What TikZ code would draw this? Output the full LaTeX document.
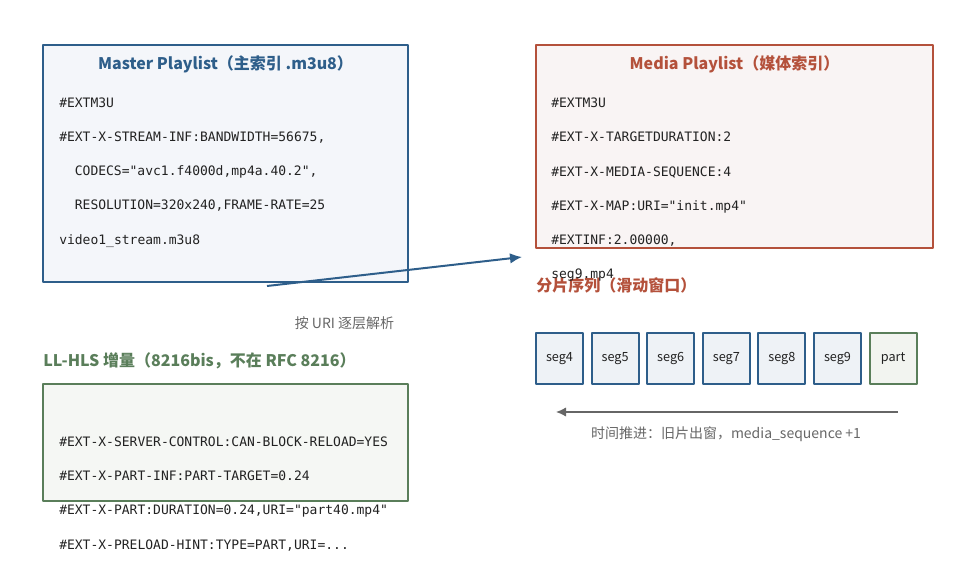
\documentclass[tikz,border=0pt]{standalone}
\usepackage{fontspec}
\setmainfont{Noto Sans CJK SC}
\setmonofont{DejaVu Sans Mono}
\usepackage{tikz}
\usetikzlibrary{arrows.meta}
\usetikzlibrary{shapes}
\definecolor{masterblue}{HTML}{2E5E8A}
\definecolor{mediared}{HTML}{B4513B}
\definecolor{llgreen}{HTML}{5A7E5A}
\definecolor{masterfill}{HTML}{F4F6FA}
\definecolor{mediafill}{HTML}{F9F4F4}
\definecolor{llfill}{HTML}{F5F7F4}
\definecolor{segfill}{HTML}{EEF2F6}
\definecolor{partfill}{HTML}{F2F4F0}
\definecolor{notegray}{HTML}{666666}
\definecolor{codeblack}{HTML}{222222}

\begin{document}
\begin{tikzpicture}[>=latex,line join=bevel,
  listbox/.style={draw,line width=1.5bp,inner sep=0pt},
  segbox/.style={draw=masterblue,fill=segfill,line width=1.5bp,inner sep=0pt,minimum width=35.25bp,minimum height=38.25bp,text=codeblack,font=\fontsize{9.5bp}{11bp}\selectfont},
  codeline/.style={anchor=west,inner sep=0pt,text=codeblack,text height=7bp,text depth=0bp,font=\ttfamily\fontsize{9.75bp}{11bp}\selectfont},
  headline/.style={inner sep=0pt,font=\bfseries\fontsize{12bp}{14bp}\selectfont},
  noteline/.style={inner sep=0pt,text=notegray,font=\fontsize{10.5bp}{12bp}\selectfont},
]
%%
\useasboundingbox (0bp,0bp) rectangle (719.25bp,435.75bp);
\node (node_master) at (169.13bp,313.13bp) [listbox,draw=masterblue,fill=masterfill,minimum width=273.75bp,minimum height=177.75bp] {};
  \node (node_media) at (550.88bp,325.88bp) [listbox,draw=mediared,fill=mediafill,minimum width=297.75bp,minimum height=152.25bp] {};
  \node (node_llhls) at (169.13bp,103.88bp) [listbox,draw=llgreen,fill=llfill,minimum width=273.75bp,minimum height=87.75bp] {};
  \node (node_master_title) at (169.13bp,387.75bp) [headline,text=masterblue] {Master Playlist（主索引 .m3u8）};
  \node (node_media_title) at (550.88bp,387.75bp) [headline,text=mediared] {Media Playlist（媒体索引）};
  \node (node_seg_title) at (402bp,222bp) [headline,anchor=west,text=mediared] {分片序列（滑动窗口）};
  \node (node_llhls_title) at (32.25bp,165bp) [headline,anchor=west,text=llgreen] {LL-HLS 增量（8216bis，不在 RFC 8216）};
  \node (node_m1) at (44.25bp,358.5bp) [codeline] {\#EXTM3U};
  \node (node_m2) at (44.25bp,333bp) [codeline] {\#EXT-X-STREAM-INF:BANDWIDTH=56675,};
  \node (node_m3) at (55.95bp,307.5bp) [codeline] {CODECS="avc1.f4000d,mp4a.40.2",};
  \node (node_m4) at (55.95bp,282bp) [codeline] {RESOLUTION=320x240,FRAME-RATE=25};
  \node (node_m5) at (44.25bp,255.75bp) [codeline] {video1\_stream.m3u8};
  \node (node_p1) at (413.25bp,358.5bp) [codeline] {\#EXTM3U};
  \node (node_p2) at (413.25bp,333bp) [codeline] {\#EXT-X-TARGETDURATION:2};
  \node (node_p3) at (413.25bp,306.75bp) [codeline] {\#EXT-X-MEDIA-SEQUENCE:4};
  \node (node_p4) at (413.25bp,281.25bp) [codeline] {\#EXT-X-MAP:URI="init.mp4"};
  \node (node_p5) at (413.25bp,255.75bp) [codeline] {\#EXTINF:2.00000,};
  \node (node_p6) at (413.25bp,230.25bp) [codeline] {seg9.mp4};
  \node (node_l1) at (44.25bp,104.25bp) [codeline] {\#EXT-X-SERVER-CONTROL:CAN-BLOCK-RELOAD=YES};
  \node (node_l2) at (44.25bp,78.75bp) [codeline] {\#EXT-X-PART-INF:PART-TARGET=0.24};
  \node (node_l3) at (44.25bp,53.25bp) [codeline] {\#EXT-X-PART:DURATION=0.24,URI="part40.mp4"};
  \node (node_l4) at (44.25bp,27bp) [codeline] {\#EXT-X-PRELOAD-HINT:TYPE=PART,URI=...};
  \node (node_seg4) at (419.63bp,166.88bp) [segbox] {seg4};
  \node (node_seg5) at (461.33bp,166.88bp) [segbox] {seg5};
  \node (node_seg6) at (503.03bp,166.88bp) [segbox] {seg6};
  \node (node_seg7) at (544.73bp,166.88bp) [segbox] {seg7};
  \node (node_seg8) at (586.43bp,166.88bp) [segbox] {seg8};
  \node (node_seg9) at (628.13bp,166.88bp) [segbox] {seg9};
  \node (node_part) at (669.83bp,166.88bp) [segbox,draw=llgreen,fill=partfill] {part};
  \node (node_resolve) at (258.38bp,193.5bp) [noteline] {按 URI 逐层解析};
  \node (node_slide) at (544.5bp,110.25bp) [noteline] {时间推进：旧片出窗，media\_sequence +1};
  \coordinate (node_resolve_from) at (200.25bp,221.25bp);
  \coordinate (node_resolve_to) at (391.5bp,243bp);
  \coordinate (node_slide_from) at (673.5bp,126.75bp);
  \coordinate (node_slide_to) at (417bp,126.75bp);
  \draw [masterblue,line width=1.5bp,-{Latex[length=9bp,width=8bp]}] (node_resolve_from) -- (node_resolve_to);
  \draw [notegray,line width=1.1bp,-{Latex[length=7.5bp,width=7bp]}] (node_slide_from) -- (node_slide_to);
%
\end{tikzpicture}
\end{document}
